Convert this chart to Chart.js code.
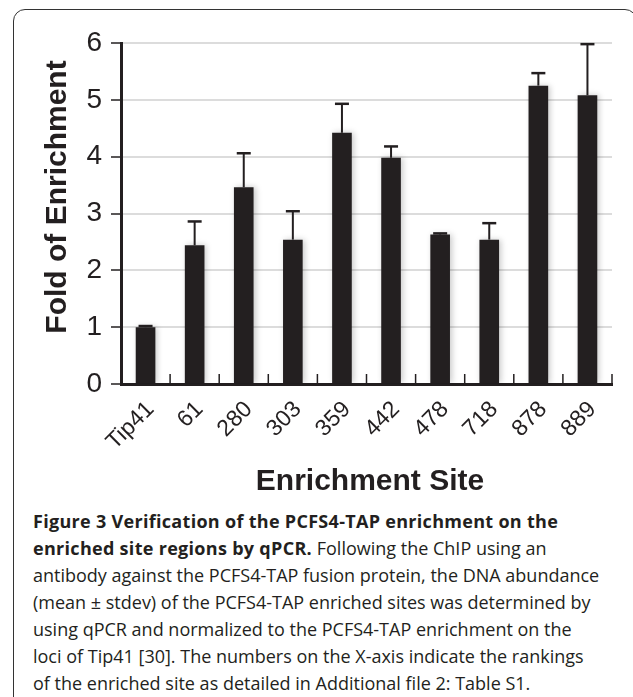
<!DOCTYPE html>
<html>
<head>
<meta charset="utf-8">
<script src="https://cdn.jsdelivr.net/npm/chart.js@4.4.1/dist/chart.umd.min.js"></script>
<style>
html, body { margin: 0; padding: 0; background: #fff; width: 633px; height: 697px; overflow: hidden; position: relative; }
#frame { position: absolute; left: 13px; top: 9px; width: 624px; height: 760px; border: 1.5px solid #333; border-radius: 12px; box-sizing: border-box; }
#wrap { position: absolute; left: 0; top: 0; width: 633px; height: 500px; }
#caption { position: absolute; left: 33px; top: 508px; font-family: 'Open Sans', sans-serif; font-size: 18px; line-height: 27px; color: #231f20; white-space: nowrap; }
#caption b { font-weight: 700; letter-spacing: 0.3px; }
</style>
</head>
<body>
<div id="frame"></div>
<div id="wrap"><canvas id="chart" width="633" height="500"></canvas></div>
<div id="caption">
    <div><b>Figure 3 Verification of the PCFS4-TAP enrichment on the</b></div>
    <div><b>enriched site regions by qPCR.</b> Following the ChIP using an</div>
    <div>antibody against the PCFS4-TAP fusion protein, the DNA abundance</div>
    <div>(mean ± stdev) of the PCFS4-TAP enriched sites was determined by</div>
    <div>using qPCR and normalized to the PCFS4-TAP enrichment on the</div>
    <div>loci of Tip41 [30]. The numbers on the X-axis indicate the rankings</div>
    <div>of the enriched site as detailed in Additional file 2: Table S1.</div>
</div>
<script>
// values (mean and upper stdev)
const sites = ['Tip41', '61', '280', '303', '359', '442', '478', '718', '878', '889'];
const foldMean = [1.0, 2.44, 3.46, 2.54, 4.42, 3.98, 2.63, 2.54, 5.25, 5.08];
const foldStdev = [0.02, 0.42, 0.60, 0.50, 0.51, 0.20, 0.02, 0.29, 0.22, 0.90];
const yTicks = [0, 1, 2, 3, 4, 5, 6];
const yTitle = 'Fold of Enrichment';
const xTitle = 'Enrichment Site';

const ink = '#231f20';
const fontFamily = "'Liberation Sans', Arial, sans-serif";

// soft shadow around the bars
const barShadow = {
    id: 'barShadow',
    beforeDatasetDraw(chart) {
        const ctx = chart.ctx;
        ctx.save();
        ctx.shadowColor = 'rgba(0,0,0,0.22)';
        ctx.shadowBlur = 6;
        ctx.shadowOffsetX = 2;
    },
    afterDatasetDraw(chart) {
        chart.ctx.restore();
    }
};

// upper error bars with cap
const errorBars = {
    id: 'errorBars',
    afterDatasetsDraw(chart) {
        const ctx = chart.ctx;
        const y = chart.scales.y;
        const meta = chart.getDatasetMeta(0);
        ctx.save();
        ctx.strokeStyle = ink;
        meta.data.forEach((bar, i) => {
            const top = y.getPixelForValue(foldMean[i] + foldStdev[i]);
            ctx.lineWidth = 2;
            ctx.beginPath();
            ctx.moveTo(bar.x, bar.y);
            ctx.lineTo(bar.x, top);
            ctx.stroke();
            ctx.lineWidth = 2.5;
            ctx.beginPath();
            ctx.moveTo(bar.x - 7, top);
            ctx.lineTo(bar.x + 7, top);
            ctx.stroke();
        });
        ctx.restore();
    }
};

// small tick marks between categories pointing into the plot, plus axis titles
const axisDecor = {
    id: 'axisDecor',
    afterDraw(chart) {
        const ctx = chart.ctx;
        const x = chart.scales.x;
        const area = chart.chartArea;
        ctx.save();
        ctx.strokeStyle = ink;
        ctx.lineWidth = 1.5;
        for (let i = 0; i < sites.length; i++) {
            const px = x.getPixelForValue(i + 0.5);
            ctx.beginPath();
            ctx.moveTo(px, area.bottom);
            ctx.lineTo(px, area.bottom - 10);
            ctx.stroke();
        }

        ctx.fillStyle = ink;
        ctx.font = 'bold 30px ' + fontFamily;
        ctx.textAlign = 'center';
        ctx.textBaseline = 'alphabetic';
        ctx.save();
        ctx.translate(66, 197);
        ctx.rotate(-Math.PI / 2);
        ctx.fillText(yTitle, 0, 0);
        ctx.restore();

        ctx.font = 'bold 30px ' + fontFamily;
        ctx.fillText(xTitle, 370, 490);
        ctx.restore();
    }
};

new Chart(document.getElementById('chart'), {
    type: 'bar',
    data: {
        labels: sites,
        datasets: [{
            data: foldMean,
            backgroundColor: ink,
            borderWidth: 0,
            categoryPercentage: 1,
            barPercentage: 0.4
        }]
    },
    options: {
        responsive: false,
        animation: false,
        layout: { padding: { left: 0, top: 43, right: 21, bottom: 0 } },
        plugins: {
            legend: { display: false },
            tooltip: { enabled: false }
        },
        scales: {
            x: {
                afterFit(scale) { scale.height = 116; },
                grid: { display: false, drawTicks: false },
                border: { display: true, color: ink, width: 3 },
                ticks: {
                    color: ink,
                    font: { family: fontFamily, size: 23 },
                    maxRotation: 45,
                    minRotation: 45,
                    autoSkip: false,
                    padding: 12,
                    labelOffset: 5
                }
            },
            y: {
                min: 0,
                max: 6,
                afterFit(scale) { scale.width = 121; },
                afterBuildTicks(scale) { scale.ticks = yTicks.map(v => ({ value: v })); },
                grid: {
                    color: ctx => ctx.tick && ctx.tick.value === 0 ? 'rgba(0,0,0,0)' : '#dcdcdc',
                    lineWidth: 2,
                    tickColor: ink,
                    tickLength: 10,
                    tickWidth: 1.5
                },
                border: { display: true, color: ink, width: 3 },
                ticks: {
                    color: ink,
                    font: { family: fontFamily, size: 28 },
                    padding: 9
                }
            }
        }
    },
    plugins: [barShadow, errorBars, axisDecor]
});
</script>
</body>
</html>
